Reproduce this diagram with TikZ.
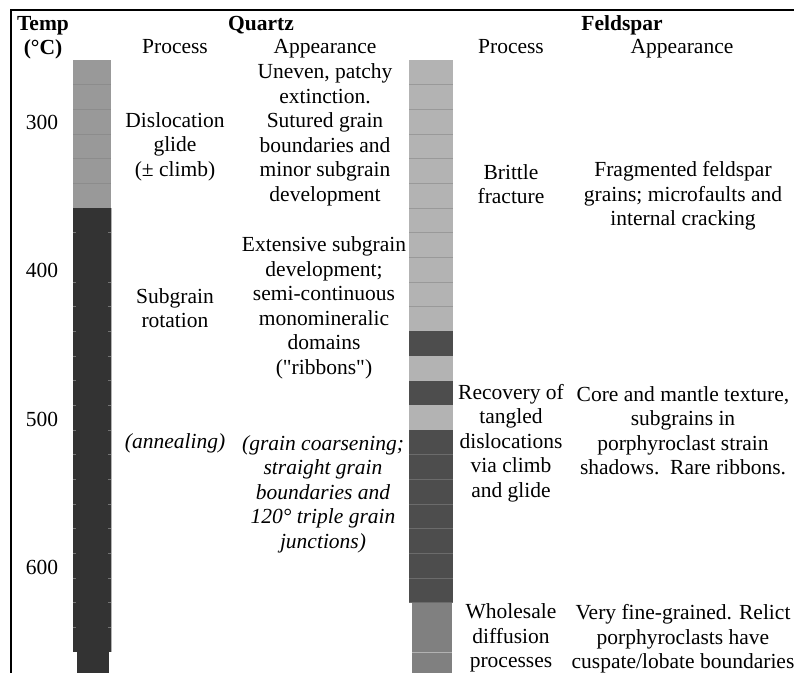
\documentclass[tikz,border=0pt]{standalone}
\usepackage{fontspec}
\setmainfont{Liberation Serif}
\newfontfamily\qfont{Liberation Serif}
\definecolor{qlight}{HTML}{999999}
\definecolor{qdark}{HTML}{333333}
\definecolor{flight}{HTML}{B3B3B3}
\definecolor{fdark}{HTML}{4D4D4D}
\definecolor{fmid}{HTML}{808080}
\newcommand{\sq}{{\qfont\symbol{34}}}
\begin{document}
\begin{tikzpicture}[x=1pt,y=-1pt,
  txt/.style={font=\fontsize{21.5}{24.5}\selectfont, align=center, inner sep=0pt},
  oneline/.style={txt, text height=14.5pt, text depth=4.5pt},
  hdr/.style={font=\fontsize{21.5}{24.5}\selectfont\bfseries, align=center, inner sep=0pt},
  itx/.style={font=\fontsize{21.5}{24.5}\selectfont\itshape, align=center, inner sep=0pt},
  sepl/.style={line width=0.8pt},
  frame/.style={line width=1.5pt, black}]
\useasboundingbox (0,0) rectangle (794,672);
\clip (0,0) rectangle (794,672);
% frame
\draw[frame] (11,680) -- (11,10) -- (800,10);
% quartz column
\fill[qlight] (73,60) rectangle (111,208);
\fill[qdark] (73,208) rectangle (111,652);
\fill[qdark] (77,652) rectangle (109,680);
\foreach \i in {1,...,5}
  \draw[sepl, color=black!45] (73,{60+\i*24.667}) -- (111,{60+\i*24.667});
\foreach \i in {7,9,10,...,23} {
  \draw[sepl, color=black!55] (73,{60+\i*24.667}) -- (76,{60+\i*24.667});
  \draw[sepl, color=black!55] (108,{60+\i*24.667}) -- (111,{60+\i*24.667});
}
\draw[line width=0.8pt, black!30] (111,208) -- (111,652);
% feldspar column
\fill[flight] (409,60) rectangle (453,331.3);
\fill[fdark] (409,331.3) rectangle (453,356);
\fill[flight] (409,356) rectangle (453,380.7);
\fill[fdark] (409,380.7) rectangle (453,405.3);
\fill[flight] (409,405.3) rectangle (453,430);
\fill[fdark] (409,430) rectangle (453,602.7);
\fill[fmid] (412,602.7) rectangle (452,680);
\foreach \i in {1,...,10}
  \draw[sepl, color=black!40] (409,{60+\i*24.667}) -- (453,{60+\i*24.667});
\foreach \i in {16,...,22}
  \draw[sepl, color=black!58] (409,{60+\i*24.667}) -- (453,{60+\i*24.667});
\draw[sepl, color=black!30] (412,652) -- (452,652);
% headers
\node[hdr] (temp) at (43,37.5) {Temp\\(°C)};
\node[hdr, text height=14.5pt, text depth=4.5pt] (quartz) at (261,25) {Quartz};
\node[hdr, text height=14.5pt, text depth=4.5pt] (feldspar) at (622,25) {Feldspar};
\node[oneline] (qproc) at (175,48) {Process};
\node[oneline] (qapp) at (325,48) {Appearance};
\node[oneline] (fproc) at (511,48) {Process};
\node[oneline] (fapp) at (682,48) {Appearance};
% temperatures
\node[txt] (t300) at (42,122) {300};
\node[txt] (t400) at (42,270.7) {400};
\node[txt] (t500) at (42,419) {500};
\node[txt] (t600) at (42,567) {600};
% quartz processes
\node[txt] (qp1) at (175,146.5) {Dislocation\\glide\\(± climb)};
\node[txt] (qp2) at (175,308) {Subgrain\\rotation};
\node[itx, text height=14.5pt, text depth=4.5pt] (qp3) at (175,443) {(annealing)};
% quartz appearance
\node[txt] (qa1) at (325,135) {Uneven, patchy\\extinction.\\Sutured grain\\boundaries and\\minor subgrain\\development};
\node[txt] (qa2) at (324,308) {Extensive subgrain\\development;\\semi-continuous\\monomineralic\\domains\\(\sq ribbons\sq)};
\node[itx] (qa3) at (323,494) {(grain coarsening;\\straight grain\\boundaries and\\120° triple grain\\junctions)};
% feldspar processes
\node[txt] (fp1) at (511,184) {Brittle\\fracture};
\node[txt] (fp2) at (511,443) {Recovery of\\tangled\\dislocations\\via climb\\and glide};
\node[txt] (fp3) at (511,638) {Wholesale\\diffusion\\processes};
% feldspar appearance
\node[txt] (fa1) at (683,196) {Fragmented feldspar\\grains; microfaults and\\internal cracking};
\node[txt] (fa2) at (683,430.5) {Core and mantle texture,\\subgrains in\\porphyroclast strain\\shadows.\ \ Rare ribbons.};
\node[txt] (fa3) at (683,639) {Very fine-grained. Relict\\porphyroclasts have\\cuspate/lobate boundaries};
\end{tikzpicture}
\end{document}
